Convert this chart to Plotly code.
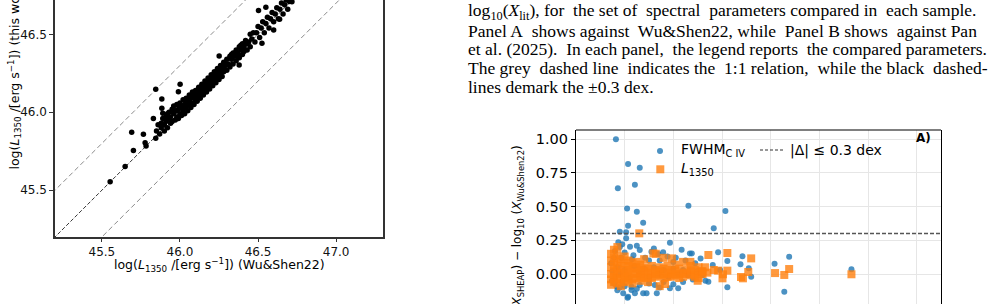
import plotly.graph_objects as go

W, H = 989, 304

# ---------------- Left panel: log L1350 (Wu&Shen22) vs log L1350 (this work)
lum_ws22 = [45.553, 45.649, 45.702, 45.691, 45.766, 45.777, 45.783, 45.845, 45.845, 45.83, 45.884, 45.884,
            45.89, 46.001, 45.99, 46.251, 46.379, 46.525, 46.503, 46.55, 46.6, 46.638, 46.717,
            45.85, 45.86, 45.87, 45.88, 45.88, 45.89, 45.90, 45.90, 45.91, 45.91, 45.92, 45.92, 45.93, 45.93,
            45.94, 45.94, 45.95, 45.95, 45.96, 45.96, 45.97, 45.97, 45.98, 45.98, 45.99, 45.99, 46.00, 46.00,
            46.01, 46.01, 46.02, 46.02, 46.03, 46.03, 46.04, 46.04, 46.05, 46.05, 46.06, 46.06, 46.07, 46.07,
            46.08, 46.08, 46.09, 46.09, 46.10, 46.10, 46.11, 46.11, 46.12, 46.12, 46.13, 46.13, 46.14, 46.14,
            46.15, 46.15, 46.16, 46.16, 46.17, 46.17, 46.18, 46.18, 46.19, 46.19, 46.20, 46.20, 46.21, 46.21,
            46.22, 46.22, 46.23, 46.23, 46.24, 46.24, 46.25, 46.25, 46.26, 46.26, 46.27, 46.27, 46.28, 46.28,
            46.29, 46.30, 46.30, 46.31, 46.32, 46.32, 46.33, 46.34, 46.34, 46.35, 46.36, 46.36, 46.37, 46.38,
            46.38, 46.39, 46.40, 46.40, 46.41, 46.42, 46.43, 46.44, 46.45, 46.45, 46.46, 46.47, 46.48, 46.49,
            46.50, 46.51, 46.52, 46.53, 46.54, 46.55, 46.56, 46.57, 46.58, 46.59, 46.60, 46.61, 46.62, 46.63,
            46.64, 46.65, 46.66, 46.67, 46.68, 46.69, 46.70,
            46.02, 46.04, 46.06, 46.08, 46.10, 46.12, 46.14, 46.16, 46.18, 46.20, 46.22, 46.24, 45.96, 45.98,
            46.00, 46.26, 46.28, 46.30, 46.33, 46.35, 46.37, 46.39, 46.41, 46.43]
lum_this = [45.555, 45.652, 45.754, 45.872, 45.859, 45.805, 45.784, 46.147, 45.833, 45.96, 46.085, 46.026,
            45.994, 46.179, 46.132, 46.361, 46.303, 46.442, 46.652, 46.673, 46.528, 46.596, 46.709,
            45.88, 45.92, 45.86, 45.93, 45.90, 45.96, 45.92, 45.88, 45.97, 45.94, 45.90, 45.99, 45.95, 46.00,
            45.93, 45.97, 46.02, 45.94, 45.99, 46.04, 45.95, 46.01, 46.05, 45.97, 46.02, 45.96, 46.06, 45.99,
            46.03, 45.98, 46.08, 46.01, 46.05, 45.99, 46.09, 46.03, 46.07, 46.01, 46.11, 46.05, 46.09, 46.03,
            46.13, 46.06, 46.10, 46.05, 46.14, 46.08, 46.12, 46.07, 46.16, 46.10, 46.14, 46.09, 46.18, 46.12,
            46.16, 46.11, 46.20, 46.14, 46.18, 46.13, 46.22, 46.16, 46.20, 46.15, 46.24, 46.18, 46.22, 46.17,
            46.26, 46.20, 46.24, 46.19, 46.28, 46.22, 46.26, 46.21, 46.30, 46.24, 46.28, 46.23, 46.32, 46.26,
            46.30, 46.27, 46.34, 46.31, 46.36, 46.29, 46.34, 46.38, 46.31, 46.36, 46.40, 46.33, 46.38, 46.42,
            46.35, 46.40, 46.44, 46.37, 46.42, 46.46, 46.40, 46.45, 46.50, 46.42, 46.47, 46.51, 46.45, 46.51,
            46.55, 46.48, 46.54, 46.58, 46.51, 46.57, 46.61, 46.54, 46.60, 46.64, 46.58, 46.63, 46.67, 46.60,
            46.66, 46.70, 46.63, 46.69, 46.72, 46.66, 46.71,
            46.04, 46.06, 46.08, 46.10, 46.11, 46.13, 46.15, 46.17, 46.19, 46.21, 46.23, 46.25, 46.00, 46.01,
            46.03, 46.27, 46.29, 46.31, 46.37, 46.38, 46.36, 46.43, 46.39, 46.44]
one_to_one = [45.0, 47.5]
offset_lo = [44.7, 47.2]
offset_hi = [45.3, 47.8]

# ---------------- Right panel: residuals vs Wu&Shen22
fwhm_x = [0.82, 0.86, 1.07, 1.31, 1.21, 1.05, 1.25, 1.38, 1.07, 0.90, 1.03, 2.31, 1.93, 3.07, 2.83,
          2.92, 3.42, 3.11, 3.38, 3.55, 3.60, 3.11, 4.08, 4.38, 4.28, 5.66, 2.66, 2.72, 2.81, 2.56, 2.96, 2.34, 2.17,
          0.87, 0.90, 0.95, 1.03, 1.11, 1.31, 1.55, 1.69, 1.79, 2.38, 0.80, 0.78, 1.00, 1.18, 1.42, 1.60, 1.88,
          2.05, 2.25, 2.45, 1.25, 0.93, 1.15, 1.50, 1.72, 2.00,
          1.06, 0.84, 0.90, 1.14, 1.45, 1.66, 1.72, 2.00, 1.31, 0.97, 1.07, 1.21, 1.38, 1.93, 2.10, 1.62, 1.14,
          0.78, 0.95, 1.25, 1.50, 1.80, 2.20, 2.40, 0.85, 1.00,
          0.75, 0.80, 0.85, 0.90, 1.00, 1.10, 1.20, 1.30, 1.40, 1.50, 1.60, 1.70, 1.80, 1.90, 2.00, 2.10, 2.20,
          2.30, 2.50, 2.60, 0.72, 0.74]
fwhm_dy = [1.00, 0.636, 0.816, 0.789, 0.663, 0.487, 0.462, 0.381, 0.358, 0.314, 0.31, 0.507, 0.232, 0.467, 0.339,
           0.161, 0.131, 0.096, 0.072, 0.042, -0.02, -0.098, 0.077, 0.129, -0.131, 0.035, -0.05, -0.057, 0.067, 0.116, 0.03, 0.153, 0.18,
           0.235, 0.20, 0.22, 0.265, 0.203, 0.178, 0.165, 0.148, 0.161, 0.153, 0.17, 0.12, 0.16, 0.14, 0.12, 0.19, 0.13,
           0.12, 0.10, 0.08, 0.21, 0.12, 0.11, 0.10, 0.10, 0.09,
           -0.176, -0.094, -0.10, -0.119, -0.143, -0.143, -0.10, -0.076, -0.082, -0.143, -0.168, -0.143, -0.143, -0.106, -0.106, -0.082, -0.094,
           -0.07, -0.06, -0.11, -0.07, -0.06, -0.06, -0.04, -0.12, -0.09,
           0.02, -0.02, 0.05, 0.00, 0.03, -0.03, 0.06, 0.00, 0.04, -0.02, 0.05, 0.00, 0.03, -0.02, 0.04, 0.00, 0.03,
           -0.01, 0.02, -0.01, 0.08, -0.05]

l1350_x = [1.30, 2.72, 3.11, 3.60, 2.92, 3.11, 3.54, 3.02, 3.01, 3.39, 3.43, 4.09, 4.28, 4.38, 5.66,
           2.58, 2.65, 2.70, 2.83, 2.35, 2.50, 1.83, 1.59, 1.97,
           0.72, 0.72, 0.72, 0.72, 0.72, 0.72, 0.78, 0.78, 0.78, 0.78, 0.78, 0.78,
           0.85, 0.85, 0.85, 0.85, 0.85, 0.85, 0.85, 0.92, 0.92, 0.92, 0.92, 0.92,
           1.00, 1.00, 1.00, 1.00, 1.00, 1.00, 1.08, 1.08, 1.08, 1.08, 1.08,
           1.16, 1.16, 1.16, 1.16, 1.16, 1.24, 1.24, 1.24, 1.24,
           1.32, 1.32, 1.32, 1.32, 1.32, 1.40, 1.40, 1.40, 1.40,
           1.48, 1.48, 1.48, 1.48, 1.56, 1.56, 1.56, 1.64, 1.64, 1.64, 1.64,
           1.72, 1.72, 1.72, 1.72, 1.80, 1.80, 1.80, 1.80, 1.88, 1.88, 1.88,
           1.96, 1.96, 1.96, 2.04, 2.04, 2.04, 2.12, 2.12, 2.12, 2.20, 2.20, 2.20,
           2.28, 2.28, 2.36, 2.36, 2.36, 2.44, 2.44, 2.44, 2.52, 2.52, 2.52, 2.60, 2.60]
l1350_dy = [0.302, 0.141, 0.156, 0.116, 0.025, 0.025, 0.015, -0.002, -0.032, -0.022, -0.032, 0.007, -0.007, 0.037, -0.002,
            0.02, 0.05, 0.01, 0.03, 0.09, -0.05, -0.074, 0.153, 0.116,
            0.00, 0.05, -0.04, 0.10, -0.08, 0.15, 0.02, -0.02, 0.07, -0.06, 0.12, 0.18,
            0.00, 0.04, -0.03, 0.09, -0.07, 0.14, 0.20, 0.01, -0.04, 0.06, 0.11, -0.09,
            0.00, 0.03, -0.03, 0.08, -0.06, 0.13, 0.02, -0.02, 0.06, -0.05, 0.10,
            0.00, 0.04, -0.04, 0.08, -0.07, 0.01, -0.03, 0.05, 0.09,
            0.00, 0.03, -0.02, 0.07, -0.05, 0.02, -0.03, 0.05, 0.11,
            0.00, 0.04, -0.02, -0.06, 0.01, -0.03, 0.06, 0.00, 0.03, -0.02, 0.15,
            0.02, -0.01, 0.05, -0.09, 0.00, 0.04, -0.03, 0.12, 0.01, -0.02, 0.06,
            0.00, 0.03, -0.02, 0.02, -0.01, 0.07, 0.00, 0.04, -0.03, 0.01, -0.02, 0.09,
            0.00, 0.03, 0.02, -0.01, 0.06, 0.00, 0.03, -0.02, 0.01, 0.05, -0.03, 0.00, 0.02]
dex_limit = 0.3

y_ticks_left = [45.5, 46.0, 46.5, 47.0]
x_ticks_left = [45.5, 46.0, 46.5, 47.0]
y_ticks_right = [-0.25, 0.0, 0.25, 0.5, 0.75, 1.0]

NB = "\u00a0 "  # widened inter-word gap (justified text)
caption_lines = [
    "log<sub>10</sub>(<i>X</i><sub>lit</sub>), for" + NB + "the set of" + NB + "spectral" + NB
    + "parameters compared in" + NB + "each sample.",
    "Panel A" + NB + "shows against" + NB + "Wu&amp;Shen22, while" + NB + "Panel B shows" + NB + "against Pan",
    "et al. (2025)." + NB + "In each panel," + NB + "the legend reports" + NB + "the compared parameters.",
    "The grey" + NB + "dashed line" + NB + "indicates the" + NB + "1:1 relation," + NB + "while the black" + NB + "dashed-",
    "lines demark the \u00b10.3 dex.",
]


def px(x):
    return x / W


def py(y):
    return 1 - y / H


SANS = "DejaVu Sans"
SERIF = "Liberation Serif"
BLUE = "#1f77b4"
ORANGE = "#ff7f0e"

fig = go.Figure()

# left panel
fig.add_trace(go.Scatter(x=one_to_one, y=one_to_one, mode="lines",
                         line=dict(color="#222222", width=0.9, dash="4px,2px"),
                         xaxis="x", yaxis="y", showlegend=False, hoverinfo="skip"))
fig.add_trace(go.Scatter(x=one_to_one, y=offset_hi, mode="lines",
                         line=dict(color="#8c8c8c", width=1, dash="5px,3px"),
                         xaxis="x", yaxis="y", showlegend=False, hoverinfo="skip"))
fig.add_trace(go.Scatter(x=one_to_one, y=offset_lo, mode="lines",
                         line=dict(color="#8c8c8c", width=1, dash="5px,3px"),
                         xaxis="x", yaxis="y", showlegend=False, hoverinfo="skip"))
fig.add_trace(go.Scatter(x=lum_ws22, y=lum_this, mode="markers",
                         marker=dict(color="black", size=5.5),
                         xaxis="x", yaxis="y", showlegend=False))

# right panel
fig.add_trace(go.Scatter(x=fwhm_x, y=fwhm_dy, mode="markers",
                         marker=dict(color=BLUE, size=6, opacity=0.8),
                         xaxis="x2", yaxis="y2", showlegend=False))
fig.add_trace(go.Scatter(x=l1350_x, y=l1350_dy, mode="markers",
                         marker=dict(color=ORANGE, size=8, symbol="square", opacity=0.8),
                         xaxis="x2", yaxis="y2", showlegend=False))

shapes = []
# +0.3 dex line on right panel
shapes.append(dict(type="line", xref="x2 domain", yref="y2", x0=0, x1=1, y0=dex_limit, y1=dex_limit,
                   line=dict(color="#555555", width=1.5, dash="4px,2px")))
# right panel top frame
shapes.append(dict(type="line", xref="paper", yref="paper", x0=px(576), x1=px(941), y0=py(130), y1=py(130),
                   line=dict(color="black", width=1.2)))
# legend symbols
shapes.append(dict(type="circle", xref="paper", yref="paper", x0=px(657), x1=px(663), y0=py(154), y1=py(148),
                   fillcolor=BLUE, opacity=0.8, line=dict(width=0)))
shapes.append(dict(type="rect", xref="paper", yref="paper", x0=px(656.3), x1=px(664.3), y0=py(173.3), y1=py(165.3),
                   fillcolor=ORANGE, opacity=0.8, line=dict(width=0)))
shapes.append(dict(type="line", xref="paper", yref="paper", x0=px(760), x1=px(784), y0=py(150), y1=py(150),
                   line=dict(color="#333333", width=1.2, dash="3px,2px")))

annotations = []
# caption text
cap_y = [11.7, 30.7, 49.3, 68.3, 87.3]
for line, yy in zip(caption_lines, cap_y):
    annotations.append(dict(text=line, xref="paper", yref="paper", x=px(466), y=py(yy),
                            xanchor="left", yanchor="middle", showarrow=False,
                            font=dict(family=SERIF, size=17.5, color="black")))
# left axis titles
annotations.append(dict(text="log(<i>L</i><sub>1350</sub> /[erg s<sup>\u22121</sup>]) (Wu&amp;Shen22)",
                        xref="paper", yref="paper", x=px(219), y=py(264.5), xanchor="center", yanchor="middle",
                        showarrow=False, font=dict(family=SANS, size=12.5, color="black")))
annotations.append(dict(text="log(<i>L</i><sub>1350</sub> /[erg s<sup>\u22121</sup>]) (this work)",
                        xref="paper", yref="paper", x=px(14), y=py(172), xanchor="center", yanchor="bottom",
                        textangle=-90, showarrow=False, font=dict(family=SANS, size=12.5, color="black")))
# right y title
annotations.append(dict(text="log<sub>10</sub> (<i>X</i><sub>SHEAP</sub>) \u2212 log<sub>10</sub> (<i>X</i><sub>Wu&amp;Shen22</sub>)",
                        xref="paper", yref="paper", x=px(518), y=py(143), xanchor="center", yanchor="top",
                        textangle=-90, showarrow=False, font=dict(family=SANS, size=12, color="black")))
# legend texts
annotations.append(dict(text="FWHM<sub>C IV</sub>", xref="paper", yref="paper", x=px(679), y=py(150),
                        xanchor="left", yanchor="middle", showarrow=False,
                        font=dict(family=SANS, size=14, color="black")))
annotations.append(dict(text="<i>L</i><sub>1350</sub>", xref="paper", yref="paper", x=px(679), y=py(169),
                        xanchor="left", yanchor="middle", showarrow=False,
                        font=dict(family=SANS, size=14, color="black")))
annotations.append(dict(text="|\u0394| \u2264 0.3 dex", xref="paper", yref="paper", x=px(788), y=py(150),
                        xanchor="left", yanchor="middle", showarrow=False,
                        font=dict(family=SANS, size=14, color="black")))
annotations.append(dict(text="<b>A)</b>", xref="paper", yref="paper", x=px(933), y=py(138),
                        xanchor="right", yanchor="middle", showarrow=False,
                        font=dict(family=SANS, size=12, color="black")))

fig.update_layout(
    width=W, height=H, autosize=False,
    margin=dict(l=0, r=0, t=0, b=0, pad=0),
    paper_bgcolor="white", plot_bgcolor="white",
    showlegend=False,
    xaxis=dict(domain=[px(55), px(383)], range=[45.2, 47.3], anchor="y",
               tickvals=x_ticks_left, ticktext=[f"{v:.1f}" for v in x_ticks_left],
               ticks="outside", ticklen=3, tickcolor="#333333",
               showline=True, linecolor="#333333", linewidth=1.5, mirror=False,
               showgrid=False, zeroline=False,
               tickfont=dict(family=SANS, size=12, color="#111111")),
    yaxis=dict(domain=[py(237), 1], range=[45.2, 46.72], anchor="x",
               tickvals=y_ticks_left, ticktext=[f"{v:.1f}" for v in y_ticks_left],
               ticks="outside", ticklen=4, tickcolor="#333333",
               showline=True, linecolor="#333333", linewidth=1.5, mirror=True,
               showgrid=False, zeroline=False,
               tickfont=dict(family=SANS, size=12, color="#111111")),
    xaxis2=dict(domain=[px(576), px(941)], range=[0, 7.5], anchor="y2",
                dtick=1, tick0=0, showticklabels=False, ticks="",
                showgrid=True, gridcolor="#e6e6e6", gridwidth=1,
                showline=False, zeroline=False),
    yaxis2=dict(domain=[0, py(130)], range=[-0.2226, 1.069], anchor="x2",
                tickvals=y_ticks_right, ticktext=[f"{v:.2f}" for v in y_ticks_right],
                ticks="outside", ticklen=4, tickcolor="black",
                showgrid=True, gridcolor="#e6e6e6", gridwidth=1,
                showline=True, linecolor="black", linewidth=1.2, mirror=True,
                zeroline=False,
                tickfont=dict(family=SANS, size=14.5, color="black")),
    shapes=shapes,
    annotations=annotations,
)

fig.write_html("out.html")
